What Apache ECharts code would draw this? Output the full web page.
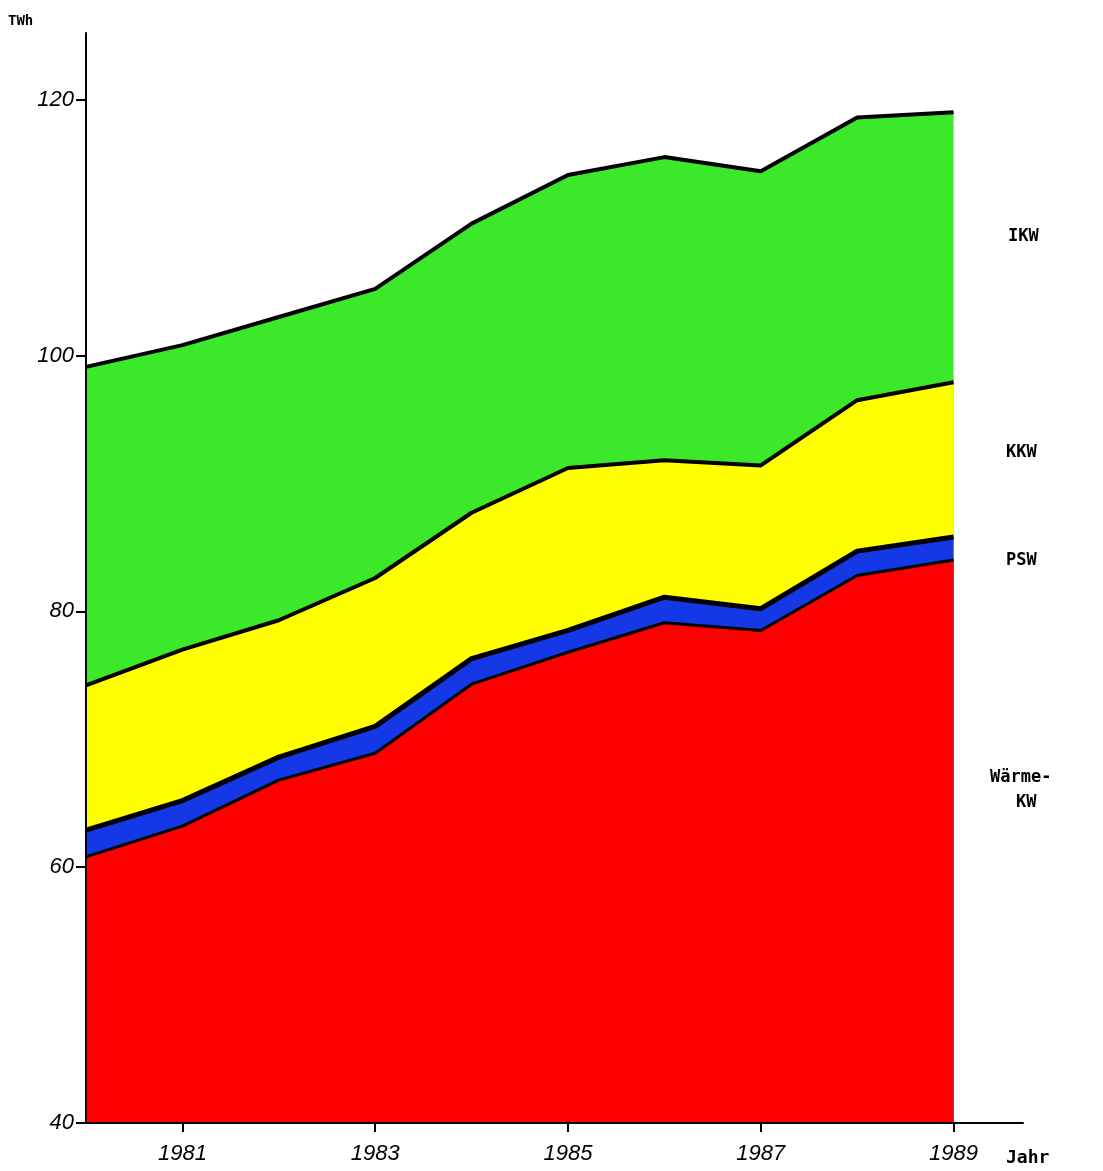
<!DOCTYPE html>
<html>
<head>
<meta charset="utf-8">
<script src="https://cdn.jsdelivr.net/npm/echarts@6/dist/echarts.min.js"></script>
<style>
html,body{margin:0;padding:0;background:#fff;}
#chart{width:1103px;height:1171px;}
</style>
</head>
<body>
<div id="chart"></div>
<script>
// Years (x categories)
const years = [1980, 1981, 1982, 1983, 1984, 1985, 1986, 1987, 1988, 1989];
// TWh per power plant type (stacked, bottom to top)
const waermeKW = [60.8, 63.2, 66.8, 68.9, 74.3, 76.8, 79.1, 78.5, 82.8, 84.0];
const psw      = [2.1, 2.0, 1.8, 2.1, 2.0, 1.7, 2.0, 1.7, 1.9, 1.8];
const kkw      = [11.3, 11.8, 10.7, 11.6, 11.4, 12.7, 10.7, 11.2, 11.8, 12.1];
const ikw      = [24.9, 23.8, 23.7, 22.6, 22.6, 22.9, 23.7, 23.0, 22.1, 21.1];
// Axis ticks
const yTicks = [40, 60, 80, 100, 120];
const xTicks = [1981, 1983, 1985, 1987, 1989];

// cumulative stacking
const layers = [waermeKW, psw, kkw, ikw];
const cum = [];
layers.forEach((arr, k) => {
  cum.push(arr.map((v, i) => (k ? cum[k - 1][i] : 0) + v));
});
const pairs = arr => years.map((y, i) => [y, +arr[i].toFixed(2)]);

const chart = echarts.init(document.getElementById('chart'), null, {renderer: 'canvas'});

function areaSeries(name, data, fill, lineW, z) {
  return {
    name: name,
    type: 'line',
    data: pairs(data),
    symbol: 'none',
    smooth: false,
    z: z,
    lineStyle: {color: '#000', width: lineW},
    areaStyle: {color: fill, opacity: 1, origin: 'start'},
    emphasis: {disabled: true}
  };
}

chart.setOption({
  animation: false,
  backgroundColor: '#fff',
  grid: {left: 86, right: 80, top: 33, bottom: 48, containLabel: false},
  xAxis: {
    type: 'value',
    min: 1980,
    max: 1989.72,
    interval: 1,
    z: 10,
    splitLine: {show: false},
    axisLine: {show: true, onZero: false, lineStyle: {color: '#000', width: 2}},
    axisTick: {show: true, customValues: xTicks, length: 9, lineStyle: {color: '#000', width: 2}},
    axisLabel: {
      customValues: xTicks,
      formatter: v => String(v),
      color: '#000',
      fontSize: 22,
      fontStyle: 'italic',
      fontFamily: 'Liberation Sans',
      margin: 20
    }
  },
  yAxis: {
    type: 'value',
    min: 40,
    max: 125.2,
    interval: 20,
    z: 10,
    splitLine: {show: false},
    axisLine: {show: true, lineStyle: {color: '#000', width: 2}},
    axisTick: {show: true, customValues: yTicks, length: 10, lineStyle: {color: '#000', width: 2}},
    axisLabel: {
      customValues: yTicks,
      formatter: v => String(v),
      color: '#000',
      fontSize: 22,
      fontStyle: 'italic',
      fontFamily: 'Liberation Sans',
      margin: 12
    }
  },
  series: [
    areaSeries('IKW', cum[3], '#3ce82a', 4, 2),
    areaSeries('KKW', cum[2], '#ffff00', 4, 3),
    areaSeries('PSW', cum[1], '#1438e6', 5, 4),
    areaSeries('Wärme-KW', cum[0], '#ff0000', 3, 5)
  ],
  graphic: [
    {type: 'text', left: 8, top: 14, style: {text: 'TWh', fill: '#000', font: 'bold 14px "DejaVu Sans Mono"'}},
    {type: 'text', left: 1006, top: 1149, style: {text: 'Jahr', fill: '#000', font: 'bold 18px "DejaVu Sans Mono"'}},
    {type: 'text', left: 1008, top: 228, style: {text: 'IKW', fill: '#000', font: 'bold 17px "DejaVu Sans Mono"'}},
    {type: 'text', left: 1006, top: 444, style: {text: 'KKW', fill: '#000', font: 'bold 17px "DejaVu Sans Mono"'}},
    {type: 'text', left: 1006, top: 552, style: {text: 'PSW', fill: '#000', font: 'bold 17px "DejaVu Sans Mono"'}},
    {type: 'text', left: 990, top: 769, style: {text: 'Wärme-', fill: '#000', font: 'bold 17px "DejaVu Sans Mono"'}},
    {type: 'text', left: 1016, top: 794, style: {text: 'KW', fill: '#000', font: 'bold 17px "DejaVu Sans Mono"'}}
  ]
});
</script>
</body>
</html>
